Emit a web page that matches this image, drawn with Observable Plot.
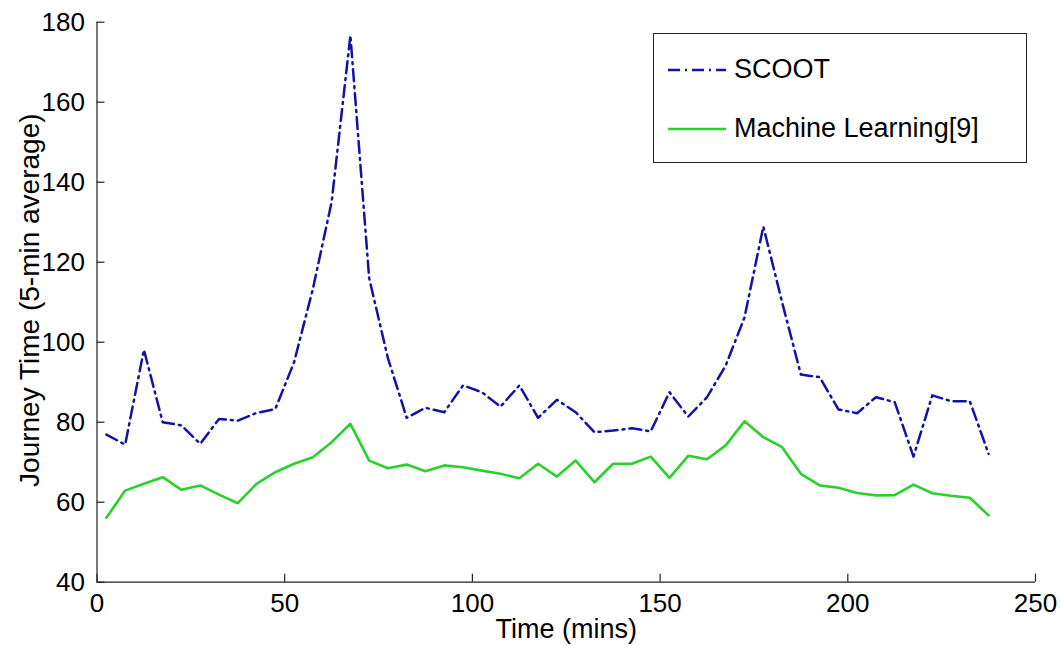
<!DOCTYPE html>
<html>
<head>
<meta charset="utf-8">
<script src="https://cdn.jsdelivr.net/npm/d3@7"></script>
<script src="https://cdn.jsdelivr.net/npm/@observablehq/plot@0.6"></script>
<style>
  html, body { margin: 0; padding: 0; background: #fff; }
  #wrap { position: relative; width: 1061px; height: 646px; font-family: "Liberation Sans", Arial, sans-serif; }
  #legend { position: absolute; left: 653px; top: 33px; width: 374px; height: 130px; border: 1px solid #222; background: #fff; box-sizing: border-box; }
  .item { position: absolute; left: 14px; display: flex; align-items: center; font-size: 27px; color: #000; white-space: nowrap; }
  .item svg { margin-right: 8px; }
</style>
</head>
<body>
<div id="wrap"></div>
<script>
const times = [2.5, 7.5, 12.5, 17.5, 22.5, 27.5, 32.5, 37.5, 42.5, 47.5, 52.5, 57.5, 62.5, 67.5, 72.5, 77.5,
  82.5, 87.5, 92.5, 97.5, 102.5, 107.5, 112.5, 117.5, 122.5, 127.5, 132.5, 137.5, 142.5, 147.5, 152.5, 157.5,
  162.5, 167.5, 172.5, 177.5, 182.5, 187.5, 192.5, 197.5, 202.5, 207.5, 212.5, 217.5, 222.5, 227.5, 232.5, 237.5];
const scoot = [76.9, 74.4, 98.1, 80, 79.2, 74.6, 80.8, 80.4, 82.3, 83.3, 95, 113.3, 135, 176.7, 116, 96,
  81.1, 83.6, 82.5, 89.2, 87.5, 83.9, 89.2, 81.1, 85.6, 82.5, 77.5, 77.9, 78.5, 77.7, 87.5, 81.4,
  86.25, 94.2, 106.25, 128.9, 110, 91.9, 91.25, 83.2, 82.25, 86.25, 85, 71.4, 86.7, 85.25, 85.25, 72.1];
const machineLearning = [56.1, 62.9, 64.6, 66.25, 63.1, 64.2, 61.9, 59.75, 64.6, 67.5, 69.6, 71.25, 75, 79.6, 70.4, 68.5,
  69.4, 67.75, 69.2, 68.75, 67.9, 67.1, 66, 69.6, 66.4, 70.4, 65, 69.6, 69.6, 71.4, 66.1, 71.6,
  70.75, 74.2, 80.25, 76.25, 73.75, 67.1, 64.2, 63.6, 62.3, 61.7, 61.75, 64.4, 62.25, 61.6, 61.1, 56.7];
const seriesNames = ["SCOOT", "Machine Learning[9]"];
const xTicks = [0, 50, 100, 150, 200, 250];
const yTicks = [40, 60, 80, 100, 120, 140, 160, 180];
const xLabel = "Time (mins)";
const yLabel = "Journey Time (5-min average)";

const blue = "#1212a6";
const green = "#2bd12b";
const dash = "12,5,2,5";

const scootData = times.map((t, i) => ({t, v: scoot[i]}));
const mlData = times.map((t, i) => ({t, v: machineLearning[i]}));

const font = "Liberation Sans, Arial, sans-serif";

const chart = Plot.plot({
  width: 1061,
  height: 646,
  marginLeft: 96.5,
  marginRight: 26,
  marginTop: 21.7,
  marginBottom: 64.3,
  style: {fontFamily: font, background: "#fff", color: "#000", overflow: "visible"},
  x: {domain: [0, 250]},
  y: {domain: [40, 180]},
  marks: [
    Plot.ruleY([40], {stroke: "#222", strokeWidth: 1.2}),
    Plot.ruleX([0], {stroke: "#222", strokeWidth: 1.2}),
    Plot.axisX(xTicks, {tickSize: -8, text: null, stroke: "#222", strokeWidth: 1.2, label: null}),
    Plot.axisX(xTicks, {tickSize: 0, tickPadding: 11, fontSize: 26, fill: "#000", label: null}),
    Plot.axisY(yTicks, {tickSize: -8, text: null, stroke: "#222", strokeWidth: 1.2, label: null}),
    Plot.axisY(yTicks, {tickSize: 0, tickPadding: 12, fontSize: 26, fill: "#000", label: null}),
    Plot.line(scootData, {x: "t", y: "v", stroke: blue, strokeWidth: 2.5, strokeDasharray: dash}),
    Plot.line(mlData, {x: "t", y: "v", stroke: green, strokeWidth: 2.6}),
    Plot.text([xLabel], {frameAnchor: "bottom", dy: 47, text: d => d, fontSize: 27, fill: "#000", textAnchor: "middle", lineAnchor: "middle"}),
    Plot.text([yLabel], {frameAnchor: "left", dx: -67, dy: -2, rotate: -90, text: d => d, fontSize: 28, fill: "#000", textAnchor: "middle", lineAnchor: "middle"})
  ]
});

const wrap = document.getElementById("wrap");
wrap.appendChild(chart);

const legend = document.createElement("div");
legend.id = "legend";
const styles = [
  {stroke: blue, dash: dash, w: 2.5, top: 20},
  {stroke: green, dash: null, w: 2.6, top: 79}
];
seriesNames.forEach((name, i) => {
  const s = styles[i];
  const item = document.createElement("div");
  item.className = "item";
  item.style.top = s.top + "px";
  item.innerHTML = `<svg width="58" height="20"><line x1="0" y1="10" x2="58" y2="10" stroke="${s.stroke}" stroke-width="${s.w}" ${s.dash ? `stroke-dasharray="${s.dash}"` : ""}/></svg><span>${name}</span>`;
  legend.appendChild(item);
});
wrap.appendChild(legend);
</script>
</body>
</html>
